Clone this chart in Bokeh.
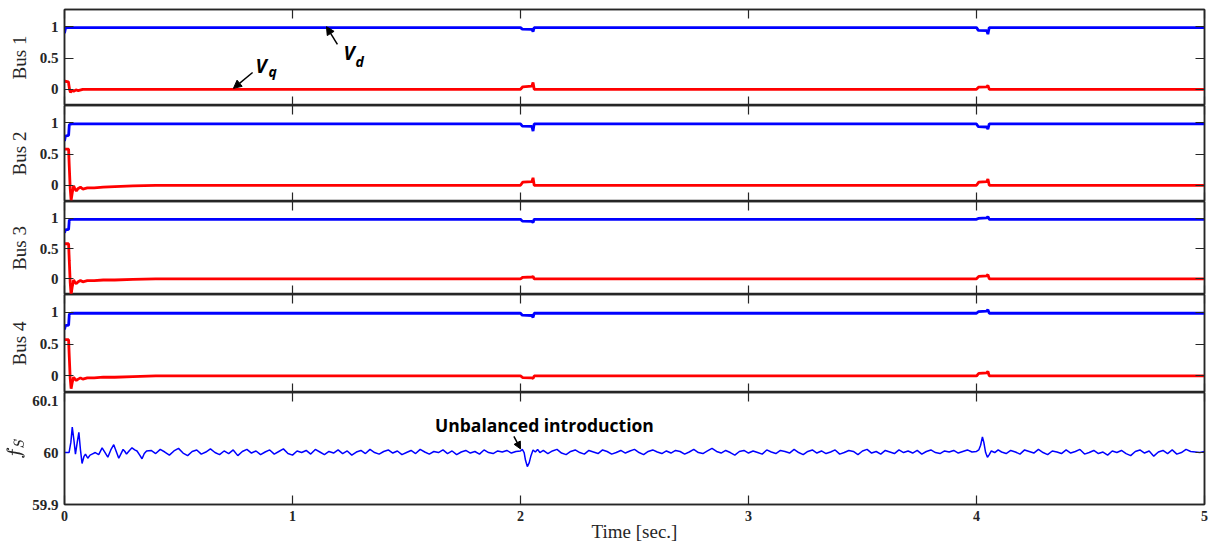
import numpy as np
from bokeh.plotting import figure
from bokeh.models import Range1d, LinearAxis, FixedTicker, Label, Arrow, NormalHead
from bokeh.layouts import column
from bokeh.embed import file_html
from bokeh.resources import INLINE

# ---------------- data ----------------
time_ticks = [0, 1, 2, 3, 4, 5]
bus_names = ["Bus 1", "Bus 2", "Bus 3", "Bus 4"]
bus_ticks = [0, 0.5, 1]
bus_tick_labels = {0: "0", 0.5: "0.5", 1: "1"}
fs_ticks = [59.9, 60.0, 60.1]
fs_tick_labels = {59.9: "59.9", 60.0: "60", 60.1: "60.1"}

# Bus 1
b1_td = [0.0, 0.004, 0.012, 0.02, 2.0, 2.008, 2.05, 2.055, 2.06, 4.0, 4.008, 4.045, 4.05, 4.056, 5.0]
b1_vd = [0.90, 0.975, 0.99, 0.99, 0.99, 0.965, 0.96, 0.925, 0.99, 0.99, 0.945, 0.94, 0.885, 0.99, 0.99]
b1_tq = [0.0, 0.002, 0.017, 0.022, 0.026, 0.032, 0.04, 0.05, 0.06, 0.08, 2.0, 2.01, 2.05, 2.055, 2.06,
         4.0, 4.01, 4.045, 4.05, 4.056, 5.0]
b1_vq = [0.11, 0.13, 0.12, 0.0, -0.05, -0.02, -0.03, -0.01, -0.02, 0.0, 0.0, 0.04, 0.05, 0.11, 0.0,
         0.0, 0.035, 0.04, 0.06, 0.0, 0.0]

# Bus 2
b2_td = [0.0, 0.004, 0.018, 0.021, 0.03, 2.0, 2.008, 2.05, 2.055, 2.06, 4.0, 4.008, 4.045, 4.05, 4.056, 5.0]
b2_vd = [0.71, 0.79, 0.80, 0.97, 0.985, 0.985, 0.95, 0.945, 0.87, 0.985, 0.985, 0.94, 0.935, 0.9, 0.985, 0.985]
b2_tq = [0.0, 0.018, 0.021, 0.025, 0.029, 0.034, 0.04, 0.046, 0.052, 0.06, 0.07, 0.08, 0.1, 0.13, 0.17,
         0.22, 0.3, 0.4, 2.0, 2.01, 2.05, 2.055, 2.06, 4.0, 4.01, 4.045, 4.05, 4.056, 5.0]
b2_vq = [0.58, 0.58, 0.3, -0.05, -0.24, -0.12, -0.01, -0.06, -0.09, -0.05, -0.03, -0.06, -0.04, -0.04, -0.03,
         -0.02, -0.01, 0.0, 0.0, 0.05, 0.06, 0.12, 0.0, 0.0, 0.05, 0.06, 0.1, 0.0, 0.0]

# Bus 3
b3_td = [0.0, 0.004, 0.018, 0.021, 0.03, 2.0, 2.008, 2.05, 2.055, 2.06, 4.0, 4.008, 4.045, 4.05, 4.056, 5.0]
b3_vd = [0.76, 0.81, 0.82, 0.97, 0.985, 0.985, 0.955, 0.95, 0.93, 0.985, 0.985, 1.0, 1.01, 1.03, 0.985, 0.985]
b3_tq = [0.0, 0.018, 0.021, 0.025, 0.029, 0.034, 0.04, 0.046, 0.052, 0.06, 0.07, 0.08, 0.1, 0.13, 0.17,
         0.22, 0.3, 0.4, 2.0, 2.01, 2.05, 2.055, 2.06, 4.0, 4.01, 4.045, 4.05, 4.056, 5.0]
b3_vq = [0.58, 0.58, 0.3, -0.06, -0.26, -0.13, -0.02, -0.06, -0.08, -0.05, -0.03, -0.05, -0.03, -0.03, -0.02,
         -0.02, -0.01, 0.0, 0.0, 0.025, 0.03, 0.04, 0.0, 0.0, 0.04, 0.05, 0.07, 0.0, 0.0]

# Bus 4
b4_td = [0.0, 0.004, 0.018, 0.021, 0.03, 2.0, 2.008, 2.05, 2.055, 2.06, 4.0, 4.008, 4.045, 4.05, 4.056, 5.0]
b4_vd = [0.73, 0.79, 0.80, 0.97, 0.985, 0.985, 0.955, 0.95, 0.92, 0.985, 0.985, 1.01, 1.02, 1.04, 0.985, 0.985]
b4_tq = [0.0, 0.018, 0.021, 0.025, 0.029, 0.034, 0.04, 0.046, 0.052, 0.06, 0.07, 0.08, 0.1, 0.13, 0.17,
         0.22, 0.3, 0.4, 2.0, 2.01, 2.05, 2.055, 2.06, 4.0, 4.01, 4.045, 4.05, 4.056, 5.0]
b4_vq = [0.57, 0.57, 0.3, -0.04, -0.2, -0.1, -0.02, -0.05, -0.07, -0.05, -0.03, -0.05, -0.03, -0.03, -0.02,
         -0.02, -0.01, 0.0, 0.0, -0.025, -0.03, -0.04, 0.0, 0.0, 0.04, 0.05, 0.07, 0.0, 0.0]

# Frequency f_S (offsets from 60 Hz, in mHz)
fs_t_start = [0, 0.02, 0.028, 0.034, 0.041, 0.048, 0.056, 0.063, 0.07, 0.077,
              0.085, 0.092, 0.102, 0.112, 0.121, 0.135, 0.15, 0.165, 0.178, 0.19,
              0.203, 0.216, 0.227, 0.238, 0.248, 0.257, 0.265, 0.272, 0.285, 0.296,
              0.308, 0.318, 0.33, 0.34, 0.35, 0.36]
fs_mhz_start = [0, 0, 20, 49, 25, -3, 20, 39, 5, -21,
                -8, -3, -11, -5, -3, 0, -4, 9, 0, -9,
                5, 15, 2, -11, -2, 6, 2, -3, 4, 9,
                5, 3, -5, -12, -2, 3]
fs_mhz_a = [4, -2, 6, 1, -5, 3, 8, -1, -6, 2,
            5, -3, 1, 7, 0, -4, 3, -2, 5, -6,
            2, 6, -1, 3, -4, 1, 5, -3, 2, 7,
            -2, -5, 3, 0, 4, -3, 6, 1, -4, 2,
            -1, 5, -2, 3, -5, 1, 4, -2, 6, 0,
            -3, 2, 5, -1, 3, -4, 0, 4, -2, 6,
            1, -3, 2, 0, 5, -2, 3, -4, 1, 4,
            -1, 2, -3, 5, 0, -2, 3, 1, 4, -1,
            2]
fs_t_event1 = [2.0, 2.008, 2.016, 2.022, 2.03, 2.038, 2.046, 2.055, 2.065, 2.075, 2.085, 2.1]
fs_mhz_event1 = [3, 6, 0, -15, -27, -20, -6, 5, 1, 6, 0, 4]
fs_mhz_c = [-2, 3, 6, -1, -4, 2, 5, 0, -3, 4,
            1, -2, 5, 2, -3, 0, 4, -1, 3, 6,
            0, -4, 2, 5, 1, -2, 3, -1, 4, 2,
            -3, 1, 6, 0, -2, 3, 8, 2, -1, 4,
            0, -5, 2, 4, -1, 3, 0, -3, 5, 1,
            -2, 4, 2, -1, 6, 0, -4, 2, 5, -1,
            3, -2, 1, 5, -3, 0, 4, 2, -4, 3,
            6, -1, 2, -3, 4, 1, -2, 5, 0, 3,
            -1, 4, -3, 2, 5, 0, -2, 3, 1, 4,
            -1, 2, 5, 1]
fs_t_event2 = [4.0, 4.01, 4.018, 4.026, 4.032, 4.04, 4.048, 4.056, 4.065, 4.08, 4.095, 4.11]
fs_mhz_event2 = [2, 5, 14, 30, 20, 0, -9, -4, 3, 0, 5, 1]
fs_mhz_e = [-2, 4, 1, -3, 5, 2, -1, 6, 0, -4,
            3, 1, -2, 5, -1, 2, 6, -3, 0, 4,
            -2, 1, -5, 3, 0, 4, -2, -6, 2, 5,
            -1, 3, -7, 1, 4, -2, 5, -3, 0, 6,
            2, 1, 0, 2]

fs_t = (fs_t_start + list(np.linspace(0.38, 1.98, len(fs_mhz_a))) + fs_t_event1
        + list(np.linspace(2.12, 3.98, len(fs_mhz_c))) + fs_t_event2
        + list(np.linspace(4.13, 5.0, len(fs_mhz_e))))
fs_mhz = fs_mhz_start + fs_mhz_a + fs_mhz_event1 + fs_mhz_c + fs_mhz_event2 + fs_mhz_e
fs_hz = [60.0 + m / 1000.0 for m in fs_mhz]

# ---------------- styling ----------------
AX = "#262626"
BLUE = "#0000ff"
RED = "#ff0000"
xr = Range1d(0, 5)
W = 1210
LEFT = 64
RIGHT = 6


def style_axis(ax, labels, ticks):
    ax.ticker = FixedTicker(ticks=ticks)
    ax.major_tick_in = 9
    ax.major_tick_out = 0
    ax.minor_tick_in = 0
    ax.minor_tick_out = 0
    ax.axis_line_color = AX
    ax.axis_line_width = 1.5
    ax.major_tick_line_color = AX
    ax.major_tick_line_width = 1.2
    if labels:
        ax.major_label_text_font = "Liberation Serif"
        ax.major_label_text_font_style = "bold"
        ax.major_label_text_font_size = "15px"
        ax.major_label_text_color = AX
        ax.major_label_standoff = 6
    else:
        ax.major_label_overrides = {t: "" for t in ticks}
        ax.major_label_text_font_size = "0px"
        ax.major_label_text_alpha = 0
        ax.major_label_standoff = 0


def make_panel(height, y_range, yticks, ylabels, ylabel, top, bottom, show_x, label_standoff,
               right_ticks=None):
    p = figure(width=W, height=height, x_range=xr, y_range=Range1d(*y_range),
               output_backend="svg", toolbar_location=None,
               min_border_left=LEFT, min_border_right=RIGHT, min_border_top=top, min_border_bottom=bottom)
    p.grid.visible = False
    p.outline_line_color = AX
    p.outline_line_width = 1.5
    p.background_fill_color = "white"
    p.border_fill_color = "white"

    bottom_ax = p.below[0]
    left_ax = p.left[0]
    style_axis(bottom_ax, show_x, time_ticks)
    style_axis(left_ax, True, yticks)
    left_ax.major_label_overrides = ylabels
    left_ax.axis_label = ylabel
    left_ax.axis_label_text_font = "Liberation Serif"
    left_ax.axis_label_text_font_style = "normal"
    left_ax.axis_label_text_font_size = "19px"
    left_ax.axis_label_text_color = AX
    left_ax.axis_label_standoff = label_standoff

    top_ax = LinearAxis()
    style_axis(top_ax, False, time_ticks)
    p.add_layout(top_ax, "above")
    right_ax = LinearAxis()
    style_axis(right_ax, False, right_ticks if right_ticks is not None else yticks)
    p.add_layout(right_ax, "right")
    return p, bottom_ax, left_ax


bus_data = [(b1_td, b1_vd, b1_tq, b1_vq), (b2_td, b2_vd, b2_tq, b2_vq),
            (b3_td, b3_vd, b3_tq, b3_vq), (b4_td, b4_vd, b4_tq, b4_vq)]
heights = [96, 96, 93, 98]
tops = [9, 0, 0, 0]
panels = []
for name, (td, vd, tq, vq), h, tb in zip(bus_names, bus_data, heights, tops):
    p, _, _ = make_panel(h + tb, (-0.26, 1.28), bus_ticks, bus_tick_labels, name, tb, 0, False, 7)
    p.line(td, vd, line_color=BLUE, line_width=2.8)
    p.line(tq, vq, line_color=RED, line_width=2.8)
    panels.append(p)

# annotations on Bus 1
p1 = panels[0]
head = dict(size=8, fill_color="black", line_color="black")
p1.add_layout(Arrow(end=NormalHead(**head), x_start=0.825, y_start=0.27, x_end=0.741, y_end=0.015,
                    line_color="black", line_width=1.5))
p1.add_layout(Arrow(end=NormalHead(**head), x_start=1.197, y_start=0.72, x_end=1.149, y_end=1.005,
                    line_color="black", line_width=1.5))
txt = dict(text_font="Open Sans", text_font_style="bold italic", text_color="black",
           text_align="left", text_baseline="alphabetic")
p1.add_layout(Label(x=0.838, y=0.37, text="V", text_font_size="19px", **txt))
p1.add_layout(Label(x=0.895, y=0.29, text="q", text_font_size="14px", **txt))
p1.add_layout(Label(x=1.224, y=0.59, text="V", text_font_size="19px", **txt))
p1.add_layout(Label(x=1.276, y=0.445, text="d", text_font_size="14px", **txt))

# frequency panel (a little head-room above 60.1 keeps its tick label inside the page)
pf, fx, fy = make_panel(152, (59.9, 60.1155), fs_ticks, fs_tick_labels, r"$$f_S$$", 0, 38, True, 2,
                        right_ticks=[59.9, 60.0])
fy.major_tick_in = 0
fx.axis_label = "Time [sec.]"
fx.axis_label_text_font = "Liberation Serif"
fx.axis_label_text_font_style = "normal"
fx.axis_label_text_font_size = "19px"
fx.axis_label_text_color = AX
fx.axis_label_standoff = -3
fx.major_label_standoff = 6
fx.major_label_text_font_size = "14px"
pf.line(fs_t, fs_hz, line_color=BLUE, line_width=1.5)
pf.add_layout(Label(x=2.105, y=60.053, text="Unbalanced introduction", text_font="Open Sans",
                    text_font_style="bold", text_font_size="17.5px", text_color="black",
                    text_align="center", text_baseline="middle"))
pf.add_layout(Arrow(end=NormalHead(size=7, fill_color="black", line_color="black"),
                    x_start=1.971, y_start=60.031, x_end=2.0, y_end=60.007,
                    line_color="black", line_width=1.5))
panels.append(pf)

layout = column(*panels, spacing=0)
open("out.html", "w").write(file_html(layout, INLINE))
